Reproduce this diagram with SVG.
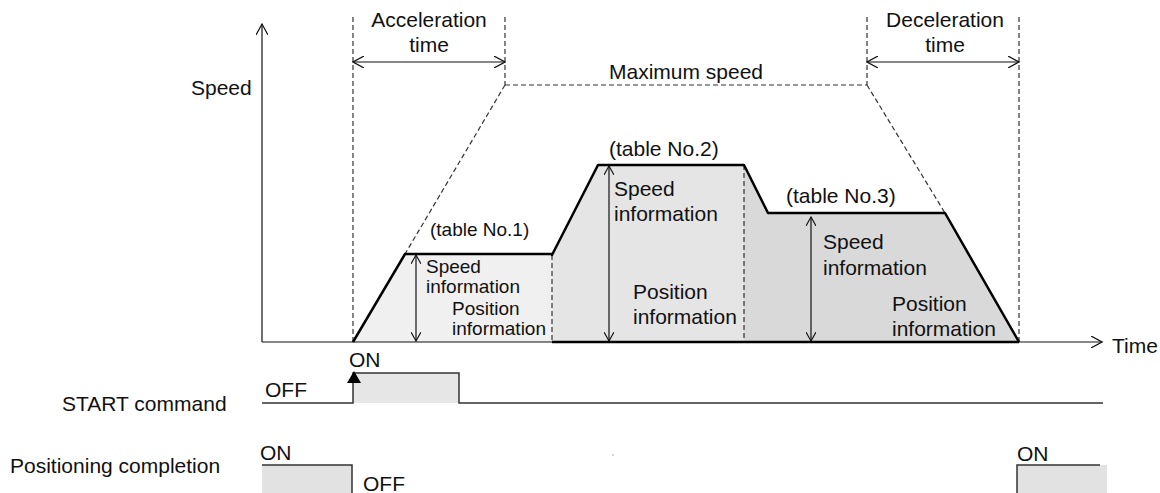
<svg xmlns="http://www.w3.org/2000/svg" width="1160" height="493" viewBox="0 0 1160 493">
<style>
text{font-family:"Liberation Sans",Arial,sans-serif;font-size:21px;fill:#111}
.sm{font-size:19px}
.dash{stroke:#333;stroke-width:1.2;stroke-dasharray:5,3;fill:none}
.thin{stroke:#111;stroke-width:1.2;fill:none}
.thick{stroke:#000;stroke-width:2.5;fill:none;stroke-linejoin:round}
.sig{stroke:#333;stroke-width:1.5;fill:none}
</style>
<defs>
<marker id="open" markerWidth="12" markerHeight="12" refX="11" refY="6" orient="auto-start-reverse" markerUnits="userSpaceOnUse">
<path d="M0,0 L11,6 L0,12" fill="none" stroke="#111" stroke-width="1.2"/>
</marker>
<marker id="opensm" markerWidth="10" markerHeight="10" refX="9" refY="5" orient="auto-start-reverse" markerUnits="userSpaceOnUse">
<path d="M0,0 L9,5 L0,10" fill="none" stroke="#111" stroke-width="1.1"/>
</marker>
</defs>

<g id="fills">
<polygon points="353,342 405,254 552,254 552,342" fill="#f0f0f0"/>
<polygon points="552,342 552,255 598,165 744,165 744,342" fill="#e5e5e5"/>
<polygon points="744,342 744,165 768,213 945,213 1019,342" fill="#d9d9d9"/>
</g>

<g id="connectors">
<line class="dash" x1="353" y1="17" x2="353" y2="342"/>
<line class="dash" x1="505" y1="17" x2="505" y2="85"/>
<line class="dash" x1="867" y1="17" x2="867" y2="85"/>
<line class="dash" x1="1019" y1="17" x2="1019" y2="342"/>
<line class="dash" x1="505" y1="85" x2="867" y2="85"/>
<line class="dash" x1="505" y1="85" x2="405" y2="254"/>
<line class="dash" x1="867" y1="85" x2="945" y2="213"/>
<line class="dash" x1="552" y1="255" x2="552" y2="342"/>
<line class="dash" x1="744" y1="165" x2="744" y2="342"/>
<line class="thin" x1="353" y1="62" x2="505" y2="62" marker-start="url(#open)" marker-end="url(#open)"/>
<line class="thin" x1="867" y1="62" x2="1019" y2="62" marker-start="url(#open)" marker-end="url(#open)"/>
<line class="thin" x1="262" y1="342" x2="262" y2="24" marker-end="url(#open)"/>
<line class="thin" x1="262" y1="342" x2="1102" y2="342" marker-end="url(#open)"/>
<line class="thin" x1="416" y1="255" x2="416" y2="341" marker-start="url(#opensm)" marker-end="url(#opensm)"/>
<line class="thin" x1="609" y1="166" x2="609" y2="341" marker-start="url(#opensm)" marker-end="url(#opensm)"/>
<line class="thin" x1="811" y1="217" x2="811" y2="341" marker-start="url(#opensm)" marker-end="url(#opensm)"/>
<polyline class="thick" points="353,342 405,254 552,254 552,255 598,165 744,165 768,213 945,213 1019,342"/>
<line stroke="#000" stroke-width="2.5" x1="552" y1="342" x2="1019" y2="342"/>
</g>

<g id="start-signal">
<rect x="353" y="373" width="106" height="30" fill="#e6e6e6"/>
<polyline class="sig" points="262,403 353,403 353,373 459,373 459,403 1103,403"/>
<polygon points="354,371 347,383 361,383" fill="#000"/>
</g>

<g id="completion-signal">
<rect x="262" y="465" width="90" height="28" fill="#e2e2e2"/>
<polyline class="sig" points="262,465 352,465 352,493"/>
<rect x="1017" y="465" width="90" height="28" fill="#e2e2e2"/>
<polyline class="sig" points="1017,493 1017,465 1100,465"/>
<rect x="612.5" y="454.5" width="1" height="1" fill="#555"/>
</g>

<g id="labels">
<text x="429" y="27" text-anchor="middle">Acceleration</text>
<text x="429" y="52" text-anchor="middle">time</text>
<text x="945" y="27" text-anchor="middle">Deceleration</text>
<text x="945" y="52" text-anchor="middle">time</text>
<text x="686" y="79" text-anchor="middle">Maximum speed</text>
<text x="191" y="95">Speed</text>
<text x="1112" y="353">Time</text>
<text x="430" y="236" class="sm">(table No.1)</text>
<text x="426" y="273" class="sm">Speed</text>
<text x="426" y="293" class="sm">information</text>
<text x="452" y="315" class="sm">Position</text>
<text x="452" y="335" class="sm">information</text>
<text x="609" y="156">(table No.2)</text>
<text x="614" y="196">Speed</text>
<text x="614" y="221">information</text>
<text x="633" y="299">Position</text>
<text x="633" y="324">information</text>
<text x="786" y="203">(table No.3)</text>
<text x="823" y="249">Speed</text>
<text x="823" y="275">information</text>
<text x="892" y="311">Position</text>
<text x="892" y="336">information</text>
<text x="349" y="367">ON</text>
<text x="265" y="397">OFF</text>
<text x="62" y="411">START command</text>
<text x="10" y="473">Positioning completion</text>
<text x="260" y="460">ON</text>
<text x="363" y="491">OFF</text>
<text x="1017" y="461">ON</text>
</g>
</svg>
